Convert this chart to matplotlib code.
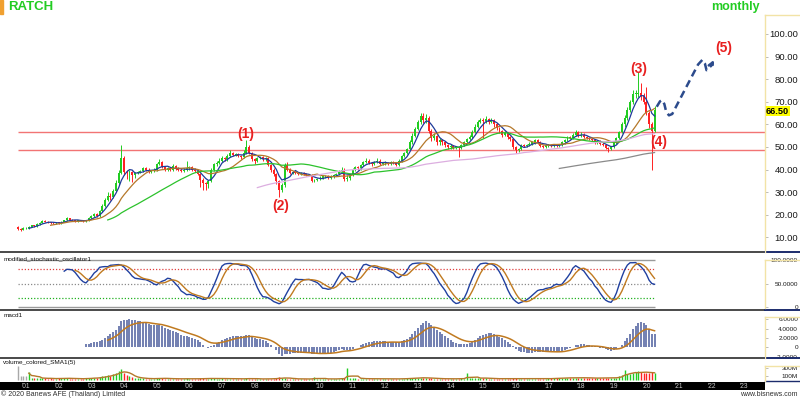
import numpy as np
import pandas as pd
import matplotlib
matplotlib.use("Agg")
import matplotlib.pyplot as plt
from matplotlib.lines import Line2D
from matplotlib.patches import Rectangle

plt.rcParams['font.family'] = ['Liberation Sans', 'DejaVu Sans']

# monthly candles, Oct 2000 .. Apr 2020 (open of each month = previous close)
first_open = 14.6
closes = [13.6, 13.4, 14.0,
          14.2, 14.8, 15.3, 15.0, 15.8, 16.5, 17.3, 17.0, 16.6, 16.3, 16.2, 16.6,
          16.4, 16.9, 17.6, 18.4, 17.8, 17.5, 17.3, 17.6, 17.4, 17.3, 17.5, 18.5,
          19.5, 20.5, 19.5, 21.5, 24.0, 26.5, 28.5, 28.0, 30.5, 34.0, 38.5, 45.0,
          39.0, 38.5, 39.0, 37.5, 38.5, 39.0, 39.5, 40.5, 40.0, 39.0, 39.5, 40.0,
          42.5, 43.5, 41.0, 40.0, 40.5, 40.0, 41.5, 40.5, 40.0, 39.5, 40.0, 40.5,
          41.0, 40.0, 39.5, 38.0, 35.5, 34.0, 33.5, 35.0, 40.0, 42.5, 43.0, 44.0,
          45.0, 44.5, 46.0, 47.5, 46.5, 47.0, 46.0, 45.5, 47.5, 50.0, 47.5, 44.5,
          44.0, 45.0, 45.5, 44.5, 45.0, 42.0, 40.0, 38.0, 35.0, 31.0, 33.0, 42.0,
          40.0, 38.5, 39.0, 38.5, 38.0, 38.5, 38.0, 37.5, 37.5, 35.0, 35.5, 36.0,
          36.5, 37.0, 37.0, 36.5, 37.0, 37.5, 38.0, 39.5, 40.0, 36.0, 36.5, 37.5,
          40.0, 41.0, 40.5, 42.0, 43.5, 44.0, 43.0, 42.5, 43.5, 44.0, 42.5, 43.0,
          43.0, 42.5, 43.5, 43.0, 42.0, 44.0, 46.0, 47.5, 49.0, 52.0, 55.0, 58.0,
          61.0, 63.5, 62.0, 63.0, 57.0, 54.0, 55.0, 52.0, 53.0, 52.0, 51.0, 50.0,
          50.5, 49.5, 50.0, 49.5, 51.0, 52.0, 53.5, 54.5, 56.5, 59.0, 61.0, 62.0,
          61.5, 62.5, 61.0, 62.0, 60.0, 58.5, 57.0, 55.5, 56.0, 54.5, 53.5, 50.0,
          48.5, 49.0, 51.0, 50.5, 51.0, 51.5, 52.0, 53.0, 52.0, 50.5, 50.0, 51.0,
          51.0, 50.5, 51.0, 50.5, 51.0, 52.0, 53.0, 54.5, 54.0, 55.5, 56.5, 55.0,
          55.5, 54.5, 54.0, 53.5, 53.0, 52.0, 52.5, 51.5, 51.0, 49.5, 49.0, 50.0,
          52.0, 54.0, 56.5, 60.0, 63.0, 66.5, 70.0, 73.5, 73.5, 74.0, 72.5, 70.0,
          65.0, 60.0, 57.0, 66.5]
highs = [15.0, 14.0, 14.4,
         14.6, 15.1, 15.7, 15.7, 16.2, 16.9, 17.8, 17.7, 17.3, 16.9, 16.7, 16.9,
         16.9, 17.2, 17.9, 19.0, 18.7, 18.1, 17.8, 17.9, 17.8, 17.7, 17.8, 18.9,
         20.0, 21.0, 21.0, 22.0, 24.8, 27.5, 30.0, 29.5, 31.5, 35.5, 40.0, 51.0,
         46.0, 40.0, 40.0, 39.5, 39.0, 39.5, 40.0, 41.0, 41.2, 40.5, 40.0, 40.6,
         43.0, 44.5, 44.0, 41.5, 41.0, 41.0, 42.5, 42.0, 41.0, 40.5, 40.5, 44.0,
         41.5, 41.5, 40.5, 40.0, 38.5, 36.5, 34.5, 35.5, 40.5, 43.0, 44.0, 45.0,
         46.0, 45.5, 47.0, 48.5, 48.0, 47.5, 47.5, 46.5, 48.5, 53.0, 51.0, 48.0,
         45.0, 45.5, 46.0, 46.0, 45.5, 45.5, 42.5, 40.5, 38.5, 35.5, 34.0, 43.0,
         43.5, 40.5, 39.5, 39.5, 39.0, 39.0, 39.0, 38.5, 38.0, 38.0, 36.0, 36.5,
         37.0, 37.5, 37.5, 37.5, 37.5, 38.0, 38.5, 40.0, 41.0, 40.5, 37.5, 38.0,
         40.5, 41.5, 41.5, 42.5, 44.0, 45.0, 44.5, 43.5, 44.0, 45.0, 44.5, 43.5,
         44.0, 43.5, 44.0, 44.0, 43.5, 44.5, 46.5, 48.0, 49.5, 53.0, 56.0, 59.0,
         62.0, 65.0, 65.0, 64.5, 63.5, 58.0, 56.0, 55.5, 54.0, 53.5, 52.5, 51.5,
         51.5, 51.0, 50.5, 50.5, 51.5, 52.5, 54.0, 55.5, 57.5, 60.0, 62.0, 63.0,
         63.0, 63.5, 63.0, 63.0, 62.5, 60.5, 59.0, 57.5, 57.0, 56.5, 55.0, 54.0,
         50.5, 49.5, 51.5, 51.5, 51.5, 52.0, 52.5, 53.5, 53.5, 52.5, 51.0, 51.5,
         51.5, 51.5, 51.5, 51.5, 51.5, 52.5, 53.5, 55.0, 55.0, 56.0, 57.5, 57.0,
         56.5, 56.0, 55.0, 54.5, 54.0, 53.5, 53.0, 53.0, 52.0, 51.5, 50.0, 50.5,
         52.5, 54.5, 57.0, 61.0, 64.0, 67.5, 71.0, 75.0, 75.0, 83.0, 78.5, 74.0,
         76.5, 66.0, 61.0, 68.0]
lows = [13.2, 13.0, 13.2,
        13.7, 13.9, 14.5, 14.6, 14.7, 15.5, 16.2, 16.6, 16.3, 16.0, 15.8, 15.9,
        16.0, 16.1, 16.6, 17.3, 17.5, 17.2, 17.0, 17.0, 17.1, 17.0, 17.0, 17.2,
        18.2, 19.2, 19.0, 19.2, 21.2, 23.5, 26.0, 26.5, 27.5, 30.0, 33.0, 38.0,
        37.5, 36.0, 35.0, 34.5, 36.5, 38.0, 38.5, 39.0, 39.3, 38.5, 38.5, 39.0,
        39.5, 42.0, 40.5, 39.5, 39.5, 39.5, 39.5, 40.0, 39.5, 39.0, 39.0, 39.5,
        40.0, 39.5, 39.0, 37.5, 32.5, 31.0, 31.0, 32.0, 34.5, 39.5, 41.5, 42.5,
        43.5, 44.0, 44.0, 45.5, 46.0, 46.0, 45.5, 44.5, 45.0, 47.0, 47.0, 44.0,
        42.5, 43.5, 44.5, 44.0, 44.0, 41.5, 39.0, 37.0, 33.5, 28.0, 30.0, 32.5,
        39.5, 38.0, 38.0, 38.0, 37.5, 37.5, 37.5, 37.0, 37.0, 34.5, 34.5, 35.0,
        35.5, 36.0, 36.5, 36.0, 36.0, 36.5, 37.0, 37.5, 39.0, 35.0, 35.0, 35.5,
        37.0, 39.5, 40.0, 40.0, 41.5, 43.0, 42.5, 41.5, 42.0, 43.0, 42.0, 42.0,
        42.0, 42.0, 42.0, 42.5, 41.5, 41.5, 43.5, 45.5, 47.0, 48.5, 51.5, 54.5,
        57.5, 60.0, 60.5, 60.5, 56.0, 52.5, 53.0, 51.0, 51.0, 51.0, 50.0, 49.0,
        49.0, 49.0, 49.0, 45.5, 49.0, 50.5, 51.5, 53.0, 54.0, 56.0, 58.5, 60.5,
        54.0, 60.5, 60.0, 60.5, 59.0, 57.5, 56.0, 54.5, 55.0, 53.5, 52.5, 49.0,
        47.5, 48.0, 48.5, 50.0, 50.0, 50.5, 51.0, 51.5, 51.5, 50.0, 49.5, 49.5,
        50.0, 50.0, 50.0, 50.0, 50.0, 50.5, 51.5, 52.5, 53.5, 53.5, 55.0, 54.5,
        54.5, 54.0, 53.5, 53.0, 52.5, 51.5, 51.5, 51.0, 50.5, 49.0, 48.0, 48.5,
        49.5, 51.5, 53.5, 56.0, 59.0, 62.0, 65.5, 69.0, 71.5, 72.0, 71.0, 69.0,
        64.0, 58.5, 40.0, 56.5]
volume_m = [350, 90, 110,
            100, 200, 60, 50, 40, 50, 45, 40, 35, 40, 35, 30,
            40, 45, 50, 40, 35, 30, 35, 30, 30, 35, 40, 45,
            50, 60, 45, 70, 90, 100, 120, 110, 150, 180, 230, 270,
            180, 120, 90, 70, 60, 45, 40, 40, 35, 30, 30, 35,
            50, 45, 40, 35, 30, 30, 35, 30, 30, 25, 30, 40,
            30, 30, 25, 30, 40, 40, 35, 30, 45, 40, 35, 35,
            40, 30, 30, 35, 30, 30, 30, 25, 35, 45, 35, 30,
            30, 25, 25, 25, 30, 35, 30, 35, 40, 70, 45, 60,
            35, 30, 30, 25, 25, 30, 25, 25, 25, 30, 75, 30,
            30, 30, 25, 25, 25, 30, 30, 35, 40, 40, 300, 60,
            50, 40, 35, 35, 30, 30, 30, 35, 30, 30, 30, 30,
            30, 30, 25, 30, 25, 30, 35, 35, 40, 45, 50, 60,
            55, 60, 50, 45, 50, 40, 35, 35, 30, 30, 30, 30,
            30, 30, 30, 35, 40, 35, 170, 40, 45, 50, 55, 50,
            45, 40, 35, 35, 35, 30, 30, 35, 30, 30, 30, 40,
            40, 30, 35, 30, 30, 30, 30, 35, 30, 30, 30, 30,
            40, 40, 45, 40, 45, 50, 55, 60, 55, 50, 60, 55,
            60, 55, 50, 50, 45, 45, 50, 55, 50, 55, 60, 50,
            50, 60, 100, 130, 250, 150, 160, 170, 200, 230, 190, 180,
            180, 170, 200, 170]

years = list(range(2001, 2024))
ma_periods = [5, 13, 34, 89, 200]
ma_colors = ['#1f3a9a', '#b5782a', '#2cc22c', '#dcaee0', '#8a8a8a']
support_levels = [56.6, 48.7]
last_price = 66.5

wave_text = ['(1)', '(2)', '(3)', '(4)', '(5)']
wave_x = [83.6, 96.7, 228.1, 235.5, 259.6]
wave_y = [55.8, 23.7, 84.5, 52.0, 93.8]

# hand-drawn projection of wave (5)
proj_x = [234.8, 236.0, 236.8, 237.6, 238.3, 239.3, 240.5, 245.0, 250.0, 251.6, 252.5, 253.1, 254.2, 256.3]
proj_y = [67.8, 70.2, 70.8, 69.0, 65.5, 64.0, 64.6, 75.0, 86.5, 88.6, 87.0, 84.0, 84.6, 89.6]

GREEN = '#22cc22'
RED = '#ff2222'

c = pd.Series(closes)
o = pd.Series([first_open] + closes[:-1])
h = pd.Series(highs)
l = pd.Series(lows)
v = pd.Series(volume_m, dtype=float)
n = len(c)
x = np.arange(n)

W, H = 800, 398
XMIN, XMAX = -6.6, 274.6


def box(top, bottom, left=0, right=765):
    return [left / W, 1 - bottom / H, (right - left) / W, (bottom - top) / H]


def fline(x0, x1, y0, y1, color, lw):
    fig.add_artist(Line2D([x0 / W, x1 / W], [1 - y0 / H, 1 - y1 / H],
                          color=color, lw=lw, transform=fig.transFigure))


def right_ticks(ax, vals, labels, size):
    ax.yaxis.tick_right()
    ax.set_yticks(vals)
    ax.set_yticklabels(labels)
    ax.tick_params(axis='y', length=2, width=0.6, color='#b0b0b0',
                   labelsize=size, pad=21.8, labelcolor='#1a1a1a')
    for t in ax.get_yticklabels():
        t.set_ha('right')
    ax.set_xticks([])
    for s in ax.spines.values():
        s.set_visible(False)
    ax.set_xlim(XMIN, XMAX)


fig = plt.figure(figsize=(8, 3.98), dpi=100)

# ---- price panel
ax = fig.add_axes(box(1, 252))
ax.set_ylim(3.54, 114.6)
right_ticks(ax, list(range(10, 101, 10)), ['%.2f' % t for t in range(10, 101, 10)], 6.8)

cols = np.where(c >= o, GREEN, RED)
ax.hlines(support_levels, 0, XMAX, color='#f27474', lw=1.0, zorder=1)
ax.vlines(x, l, h, colors=cols, lw=0.7, zorder=2)
ax.bar(x, np.maximum((c - o).abs(), 0.3), bottom=np.minimum(o, c), width=0.72,
       color=cols, lw=0, zorder=2)
for p, col in zip(ma_periods, ma_colors):
    ax.plot(x, c.rolling(p).mean(), color=col, lw=0.9, zorder=3)

for t, wx, wy in zip(wave_text, wave_x, wave_y):
    ax.text(wx, wy, t, color='#e82020', fontsize=10, fontweight='bold',
            ha='center', va='center', zorder=5)

ax.plot(proj_x[:-1], proj_y[:-1], color='#2c4b8c', lw=1.8, dashes=(3, 1.8), zorder=4)
ax.annotate('', xy=(proj_x[-1], proj_y[-1]), xytext=(proj_x[-2], proj_y[-2]),
            arrowprops=dict(arrowstyle='->', color='#2c4b8c', lw=1.8,
                            linestyle=(0, (3, 1.8)), mutation_scale=8))

fig.text(8 / W, 1 - 7 / H, 'RATCH', color='#22cc22', fontsize=9.5,
         fontweight='bold', ha='left', va='center')
fig.text(760 / W, 1 - 7 / H, 'monthly', color='#22cc22', fontsize=9,
         fontweight='bold', ha='right', va='center')
fig.add_artist(Rectangle((0, 1 - 14 / H), 2.5 / W, 14 / H, color='#f0a030',
                         transform=fig.transFigure))
fig.text(766 / W, 1 - 111 / H, '%.2f' % last_price, fontsize=6.6, fontweight='bold',
         color='black', ha='left', va='center',
         bbox=dict(facecolor='#ffff00', edgecolor='none', pad=0.3))

# ---- stochastic panel
ax2 = fig.add_axes(box(252, 310))
ax2.set_ylim(-5.7, 116.9)
right_ticks(ax2, [0, 50, 100], ['0', '50.0000', '100.0000'], 4.6)
hh = h.rolling(14).max()
ll = l.rolling(14).min()
raw_k = (c - ll) / (hh - ll) * 100
k = raw_k.rolling(5).mean()
d = k.rolling(5).mean()
ax2.hlines([0, 100], 0, n - 1, color='#9a9a9a', lw=1.0)
ax2.hlines(80, 0, n - 1, color='#e04040', lw=0.9, linestyles=(0, (1, 1.5)))
ax2.hlines(50, 0, n - 1, color='#8a8a8a', lw=0.9, linestyles=(0, (1, 1.5)))
ax2.hlines(20, 0, n - 1, color='#20b020', lw=0.9, linestyles=(0, (1, 1.5)))
ax2.plot(x, k, color='#2040a0', lw=1.0)
ax2.plot(x, d, color='#c07a20', lw=1.0)
ax2.text(0.004, 0.93, 'modified_stochastic_oscillator1', transform=ax2.transAxes,
         fontsize=4.6, va='top', ha='left', color='#111111')

# ---- macd panel
ax3 = fig.add_axes(box(310, 358))
ax3.set_ylim(-2.30, 8.02)
right_ticks(ax3, [-2, 0, 2, 4, 6], ['-2.0000', '0', '2.0000', '4.0000', '6.0000'], 4.6)
macd = c.ewm(span=12, adjust=False).mean() - c.ewm(span=26, adjust=False).mean()
macd[:25] = np.nan
signal = macd.ewm(span=9, adjust=False).mean()
signal[:33] = np.nan
ax3.vlines(x, 0, macd, color='#4b5c9c', lw=1.1)
ax3.plot(x, signal, color='#c07a20', lw=1.1)
ax3.text(0.004, 0.93, 'macd1', transform=ax3.transAxes,
         fontsize=4.6, va='top', ha='left', color='#111111')

# ---- volume panel
ax4 = fig.add_axes(box(358, 381))
ax4.set_ylim(-25, 550)
right_ticks(ax4, [100, 300], ['100M', '300M'], 4.6)
vcols = np.where(c >= o, GREEN, RED).astype(object)
vcols[:4] = '#a8a8a8'
ax4.vlines(x, 0, v, colors=list(vcols), lw=1.0)
ax4.plot(x, v.rolling(5).mean(), color='#b5782a', lw=1.0)
ax4.text(0.004, 0.93, 'volume_colored_SMA1(5)', transform=ax4.transAxes,
         fontsize=4.6, va='top', ha='left', color='#111111')

# ---- date band
axb = fig.add_axes(box(381.5, 390))
axb.set_xlim(XMIN, XMAX)
axb.set_ylim(0, 1)
axb.set_facecolor('black')
axb.set_xticks([])
axb.set_yticks([])
for s in axb.spines.values():
    s.set_visible(False)
for yr in years:
    axb.text(3 + 12 * (yr - 2001), 0.45, "'%02d" % (yr % 100), color='#c8c8c8',
             fontsize=4.8, ha='center', va='center')

# separators and right-hand axis boxes
for yy in [252, 310, 358]:
    fline(0, 765, yy, yy, '#4a4a4a', 1.4)
    fline(765, 800, yy, yy, '#1c2c6c', 1.4)
fline(765, 800, 381, 381, '#1c2c6c', 1.0)
for top, bot in [(15, 252), (260, 308), (317, 358), (366, 381)]:
    fline(765, 765, top, bot, '#f2e3a6', 1.0)
    fline(765, 800, top, top, '#f2e3a6', 1.0)

fig.text(1 / W, 1 - 394 / H, '\u00a9 2020 Banews AFE (Thailand) Limited',
         fontsize=5, color='#303030', ha='left', va='center')
fig.text(798 / W, 1 - 394.5 / H, 'www.bisnews.com', fontsize=5,
         color='#303030', ha='right', va='center')

fig.savefig('out.png', dpi=100, facecolor='white')
